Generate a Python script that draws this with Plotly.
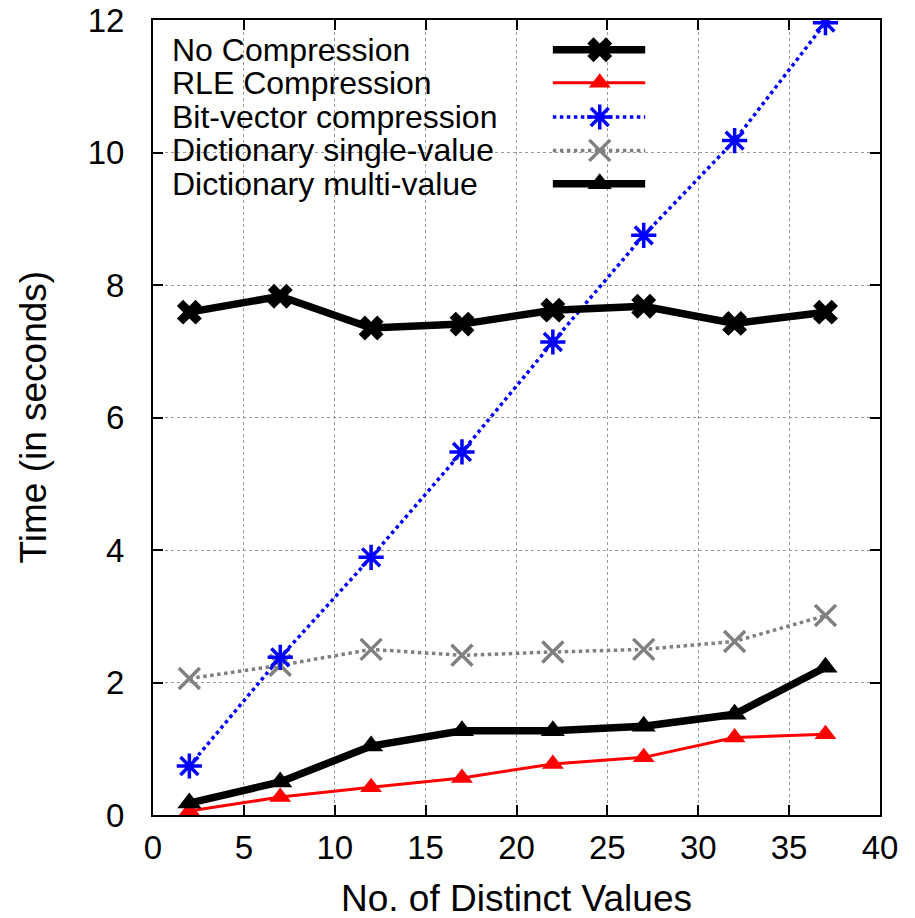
import plotly.graph_objects as go

distinct_values = [2, 7, 12, 17, 22, 27, 32, 37]

no_compression = [7.59, 7.83, 7.35, 7.41, 7.62, 7.68, 7.42, 7.59]
rle_compression = [0.06, 0.27, 0.42, 0.56, 0.77, 0.87, 1.17, 1.22]
bitvector_compression = [0.74, 2.38, 3.89, 5.48, 7.14, 8.75, 10.18, 11.96]
dict_single_value = [2.06, 2.26, 2.50, 2.41, 2.46, 2.50, 2.62, 3.01]
dict_multi_value = [0.18, 0.50, 1.04, 1.27, 1.27, 1.34, 1.52, 2.23]

series_names = [
    'No Compression',
    'RLE Compression',
    'Bit-vector compression',
    'Dictionary single-value',
    'Dictionary multi-value',
]

x_ticks = [0, 5, 10, 15, 20, 25, 30, 35, 40]
y_ticks = [0, 2, 4, 6, 8, 10, 12]

font_family = 'Liberation Sans, Arial, Helvetica, sans-serif'

# style for each series: line + marker
styles = [
    dict(line=dict(color='black', width=7.5),
         marker=dict(symbol='x', size=22, color='black')),
    dict(line=dict(color='#ff0000', width=3),
         marker=dict(symbol='triangle-up', size=19, color='#ff0000')),
    dict(line=dict(color='#0000ff', width=3.5, dash='dot'),
         marker=dict(symbol='asterisk-open', size=21, color='#0000ff',
                     line=dict(color='#0000ff', width=3.5))),
    dict(line=dict(color='#808080', width=3.5, dash='dot'),
         marker=dict(symbol='x-thin-open', size=21, color='#808080',
                     line=dict(color='#808080', width=3.5))),
    dict(line=dict(color='black', width=7.5),
         marker=dict(symbol='triangle-up', size=21, color='black')),
]

series_values = [
    no_compression,
    rle_compression,
    bitvector_compression,
    dict_single_value,
    dict_multi_value,
]

fig = go.Figure()

# draw bottom series first so the thick black lines sit on top
draw_order = [3, 2, 1, 4, 0]
for i in draw_order:
    fig.add_trace(
        go.Scatter(
            x=distinct_values,
            y=series_values[i],
            mode='lines+markers',
            name=series_names[i],
            showlegend=False,
            **styles[i]
        )
    )

# gnuplot-style key: text on the left, sample on the right
key_rows = [0.9625, 0.921, 0.878, 0.836, 0.794]
for i, name in enumerate(series_names):
    fig.add_trace(
        go.Scatter(
            x=[0.55, 0.6145, 0.677],
            y=[key_rows[i]] * 3,
            mode='lines',
            line=styles[i]['line'],
            xaxis='x2', yaxis='y2',
            showlegend=False, hoverinfo='skip'
        )
    )
    fig.add_trace(
        go.Scatter(
            x=[0.6145],
            y=[key_rows[i]],
            mode='markers',
            marker=styles[i]['marker'],
            xaxis='x2', yaxis='y2',
            showlegend=False, hoverinfo='skip'
        )
    )
    fig.add_annotation(
        x=0.0245, y=key_rows[i], xref='paper', yref='paper',
        text=name, showarrow=False, xanchor='left', yanchor='middle',
        borderpad=0,
        font=dict(family=font_family, size=32, color='black')
    )

# white box behind the key hides the grid
fig.add_shape(
    type='rect', xref='paper', yref='paper',
    x0=0.005, x1=0.685, y0=0.772, y1=0.998,
    fillcolor='white', line=dict(width=0), layer='between'
)

# axis titles as annotations for exact placement
fig.add_annotation(
    x=0.5, y=0, xref='paper', yref='paper', yshift=-83,
    text='No. of Distinct Values', showarrow=False,
    xanchor='center', yanchor='middle',
    font=dict(family=font_family, size=37, color='black')
)
fig.add_annotation(
    x=0, y=0.5, xref='paper', yref='paper', xshift=-120,
    text='Time (in seconds)', showarrow=False, textangle=-90,
    xanchor='center', yanchor='middle',
    font=dict(family=font_family, size=37, color='black')
)

axis_common = dict(
    showline=True, linecolor='black', linewidth=2, mirror='ticks',
    ticks='inside', ticklen=10, tickwidth=1.5, tickcolor='black',
    showgrid=True, gridcolor='#9a9a9a', gridwidth=1, griddash='dot',
    zeroline=False, automargin=False, ticklabeloverflow='allow',
    tickfont=dict(family=font_family, size=33, color='black'),
)

# the page body adds an 8px offset, so the figure is 8px smaller
fig.update_layout(
    width=907,
    height=910,
    plot_bgcolor='white',
    paper_bgcolor='white',
    margin=dict(l=145, r=35, t=12, b=103),
    xaxis=dict(range=[0, 40], tickmode='array', tickvals=x_ticks,
               ticklabelstandoff=2, **axis_common),
    yaxis=dict(range=[0, 12], tickmode='array', tickvals=y_ticks,
               ticklabelstandoff=20, **axis_common),
    xaxis2=dict(range=[0, 1], overlaying='x', visible=False),
    yaxis2=dict(range=[0, 1], overlaying='y', visible=False),
)

fig.write_html("out.html")
